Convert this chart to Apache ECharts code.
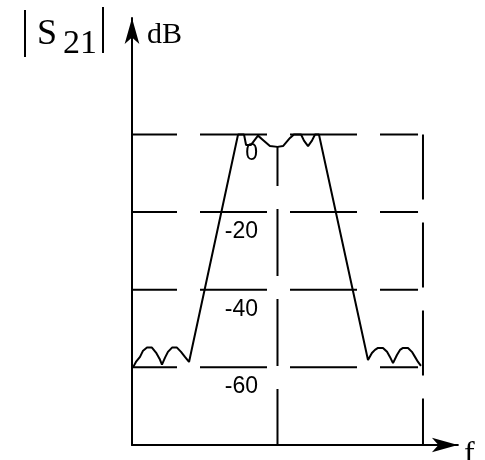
<!DOCTYPE html>
<html><head><meta charset="utf-8">
<script src="https://cdn.jsdelivr.net/npm/echarts@6/dist/echarts.min.js"></script>
<style>html,body{margin:0;padding:0;background:#fff}#chart{width:485px;height:460px}</style>
</head><body><div id="chart"></div>
<script>
// Band-pass filter transmission |S21| versus normalised frequency (centre = 1)
const freq = [0.007,0.027,0.055,0.076,0.103,0.137,0.165,0.192,0.206,0.227,0.247,0.275,0.309,0.337,0.364,0.392,
  0.729,0.770,0.784,0.818,0.866,0.900,0.948,1.000,1.038,1.086,1.113,1.162,1.182,1.210,1.237,1.258,1.285,
  1.622,1.649,1.670,1.691,1.725,1.753,1.773,1.794,1.821,1.842,1.863,1.897,1.924,1.945,1.966,1.986];
const s21 = [-60,-58.6,-57.3,-55.7,-54.9,-54.9,-56.2,-58.0,-59.3,-57.5,-56.0,-54.9,-54.9,-56.0,-57.3,-58.6,
  0,0,-2.7,-2.7,-0.3,-1.4,-3.0,-3.2,-3.0,-0.9,0,0,-1.6,-3.0,-1.6,0,0,
  -58.1,-56.3,-55.5,-55.0,-55.0,-56.0,-57.3,-58.9,-56.8,-55.5,-55.0,-55.0,-56.0,-57.3,-58.6,-59.6];

// Reference levels (dB) and their tick labels
const gridLevels = [0, -20, -40, -60];
const yTickValues = [0, -20, -40, -60];
const yTickLabels = ['0', '-20', '-40', '-60'];

// Vertical reference lines: centre frequency and upper band edge
const markerFreq = [1, 2];
const markerTop = [-3.2, 0];

const LEVEL_END = 1.966;   // horizontal reference lines stop just short of the edge marker
const FLOOR = -80;

const black = '#000';
const series = [];

gridLevels.forEach(function (lv) {
  series.push({
    type: 'line', silent: true, symbol: 'none', animation: false,
    data: [[0, lv], [LEVEL_END, lv]],
    lineStyle: { color: black, width: 2, type: [67, 23], dashOffset: 22 }
  });
});

markerFreq.forEach(function (fx, i) {
  series.push({
    type: 'line', silent: true, symbol: 'none', animation: false,
    data: [[fx, markerTop[i]], [fx, FLOOR]],
    lineStyle: { color: black, width: 2, type: i === 0 ? [67, 23] : [65, 23], dashOffset: i === 0 ? 28 : 0 }
  });
});

series.push({
  type: 'line', silent: true, symbol: 'none', animation: false,
  data: freq.map(function (f, i) { return [f, s21[i]]; }),
  lineStyle: { color: black, width: 2 }
});

const chart = echarts.init(document.getElementById('chart'), null, { renderer: 'canvas' });
chart.setOption({
  animation: false,
  backgroundColor: '#fff',
  grid: { left: 132, right: 27.1, top: 18, bottom: 15, containLabel: false, outerBoundsMode: 'none' },
  xAxis: {
    type: 'value', min: 0, max: 2.24,
    name: 'f', nameLocation: 'end', nameGap: 6,
    nameTextStyle: { color: black, fontFamily: 'Liberation Serif', fontSize: 32, verticalAlign: 'top', padding: [0, 0, 0, 0], lineHeight: 20 },
    axisLine: { onZero: false, lineStyle: { color: black, width: 2 }, symbol: ['none', 'arrow'], symbolSize: [11, 26] },
    axisTick: { show: false }, axisLabel: { show: false }, splitLine: { show: false }
  },
  yAxis: {
    type: 'value', min: FLOOR, max: 30, interval: 20,
    name: 'dB', nameLocation: 'end', nameGap: -17,
    nameTextStyle: { color: black, fontFamily: 'Liberation Serif', fontSize: 30, align: 'left', verticalAlign: 'middle', padding: [0, 0, 0, 15] },
    axisLine: { onZero: false, lineStyle: { color: black, width: 2 }, symbol: ['none', 'arrow'], symbolSize: [11, 26] },
    axisTick: { show: false },
    axisLabel: {
      customValues: yTickValues,
      margin: -126,
      color: black, fontFamily: 'Liberation Sans', fontSize: 23,
      verticalAlign: 'top', padding: [8, 0, 0, 0],
      formatter: function (v) { const k = yTickValues.indexOf(v); return k >= 0 ? yTickLabels[k] : ''; }
    },
    splitLine: { show: false }
  },
  graphic: [
    { type: 'line', shape: { x1: 25, y1: 10, x2: 25, y2: 57 }, style: { stroke: black, lineWidth: 2 } },
    { type: 'line', shape: { x1: 103, y1: 7, x2: 103, y2: 53 }, style: { stroke: black, lineWidth: 2 } },
    { type: 'text', left: 37, top: 17, style: { text: 'S', fill: black, font: '36px "Liberation Serif"' } },
    { type: 'text', left: 63, top: 27, style: { text: '21', fill: black, font: '34px "Liberation Serif"' } }
  ],
  series: series
});
</script>
</body></html>
